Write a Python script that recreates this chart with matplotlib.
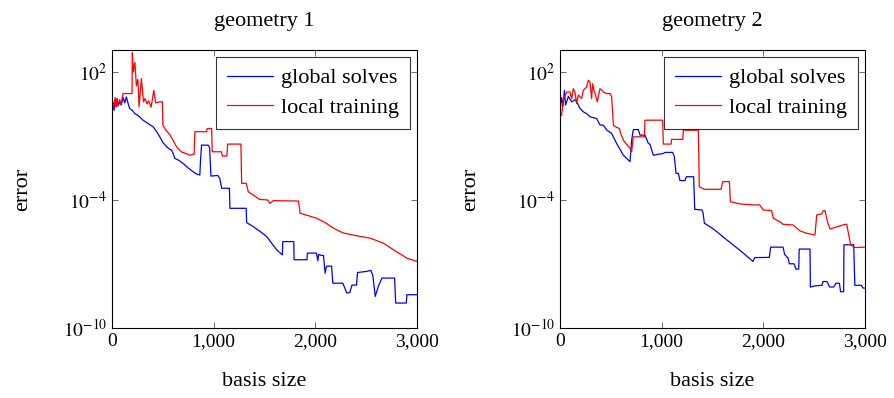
import matplotlib
matplotlib.use("Agg")
import matplotlib.pyplot as plt
import numpy as np

plt.rcParams['font.family'] = ['Liberation Serif', 'DejaVu Serif']
plt.rcParams['mathtext.fontset'] = 'stix'

titles = ["geometry 1", "geometry 2"]
series_names = ["global solves", "local training"]

# geometry 1, global solves (basis size, log10 error)
g1_global_x = [0, 10, 20, 30, 40, 50, 60, 75, 90, 110, 125, 141, 160, 174, 200, 223, 260, 306, 350, 404,
               440, 470, 500, 536, 560, 585, 600, 618, 660, 700, 750, 798, 830, 864, 870, 881, 946, 960,
               973, 1040, 1061, 1078, 1155, 1160, 1320, 1324, 1390, 1450, 1521, 1620, 1676, 1680, 1788,
               1791, 1918, 1922, 2010, 2025, 2032, 2060, 2080, 2096, 2110, 2160, 2172, 2270, 2310, 2340,
               2360, 2405, 2415, 2500, 2546, 2566, 2589, 2620, 2655, 2780, 2790, 2895, 2900, 3000]
g1_global_log = [0.13, 0.4, 0.2, 0.7, 0.35, 0.75, 0.4, 0.6, 0.45, 0.8, 0.55, 0.83, 0.5, 0.29, 0.2, 0.05, -0.05, -0.26,
                 -0.4, -0.57, -0.8, -1.04, -1.3, -1.5, -1.6, -1.66, -1.8, -2.05, -2.15, -2.29, -2.5, -2.68, -2.78,
                 -2.83, -2.2, -1.43, -1.43, -1.55, -2.88, -2.85, -3.0, -3.45, -3.45, -4.39, -4.39, -5.06, -5.25,
                 -5.45, -5.71, -6.34, -6.57, -5.95, -5.95, -6.8, -6.8, -6.49, -6.49, -6.85, -6.55, -6.6, -6.6, -7.43,
                 -7.1, -7.1, -7.9, -7.9, -8.36, -8.33, -7.99, -7.99, -7.4, -7.35, -7.3, -7.55, -8.52, -8.05, -7.66,
                 -7.66, -8.83, -8.83, -8.44, -8.44]

# geometry 1, local training
g1_local_x = [0, 10, 20, 30, 40, 50, 60, 75, 90, 108, 197, 200, 210, 225, 240, 255, 266, 289, 310, 325, 345, 360,
              385, 411, 430, 470, 496, 500, 530, 570, 601, 634, 680, 740, 766, 808, 815, 930, 936, 980, 986, 1075,
              1088, 1130, 1137, 1268, 1275, 1320, 1340, 1390, 1450, 1530, 1554, 1587, 1834, 1850, 1920, 2014, 2096,
              2179, 2244, 2280, 2409, 2540, 2672, 2770, 2902, 3000]
g1_local_log = [0.36, 0.6, 0.3, 0.8, 0.4, 0.75, 0.45, 0.7, 0.5, 0.99, 0.99, 2.9, 2.0, 2.45, 1.35, 1.65, 0.36, 1.69,
                0.6, 0.75, 0.5, 0.65, 0.35, 1.14, 0.55, 0.6, 0.6, -0.49, -0.72, -0.95, -1.2, -1.5, -1.74, -1.85,
                -1.9, -1.85, -0.8, -0.8, -0.65, -0.65, -1.74, -1.74, -1.94, -1.94, -1.38, -1.38, -3.22, -3.22,
                -3.61, -3.77, -3.97, -4.0, -4.16, -4.03, -4.05, -4.62, -4.72, -4.86, -5.06, -5.32, -5.48, -5.55,
                -5.68, -5.79, -6.03, -6.34, -6.73, -6.88]

# geometry 2, global solves
g2_global_x = [0, 15, 30, 43, 55, 82, 115, 150, 164, 197, 230, 262, 295, 360, 394, 426, 459, 508, 557, 623, 672,
               689, 705, 721, 770, 787, 836, 869, 885, 918, 1016, 1033, 1108, 1125, 1141, 1164, 1180, 1229, 1243,
               1315, 1325, 1397, 1407, 1420, 1476, 1541, 1640, 1705, 1803, 1898, 1915, 2056, 2059, 2072, 2194, 2210,
               2243, 2256, 2302, 2321, 2348, 2353, 2459, 2463, 2512, 2577, 2587, 2626, 2652, 2692, 2715, 2748,
               2760, 2790, 2793, 2889, 2900, 2964, 2980, 3000]
g2_global_log = [0.13, 0.8, 0.4, 1.14, 0.45, 0.85, 0.6, 0.7, 0.6, 0.29, 0.13, 0.05, -0.1, -0.18, -0.49, -0.49,
                 -0.72, -0.88, -1.35, -1.9, -2.13, -2.2, -1.19, -0.7, -0.7, -0.96, -0.96, -1.35, -1.39, -1.9, -1.82,
                 -1.77, -1.77, -1.97, -2.75, -2.75, -3.09, -3.09, -2.91, -2.91, -4.44, -4.47, -4.6, -5.09, -5.25,
                 -5.48, -5.87, -6.11, -6.49, -6.88, -6.7, -6.69, -6.69, -6.21, -6.21, -6.56, -6.72, -6.99, -6.99,
                 -7.24, -7.24, -6.3, -6.3, -8.08, -8.02, -8.0, -7.82, -7.82, -8.08, -8.08, -7.9, -7.9, -8.3, -8.3,
                 -6.1, -6.1, -8.0, -8.0, -8.13, -8.13]

# geometry 2, local training
g2_local_x = [0, 16, 33, 49, 66, 98, 115, 131, 147, 164, 180, 213, 230, 262, 279, 295, 311, 321, 334,
              354, 367, 393, 410, 426, 459, 492, 508, 525, 548, 584, 597, 623, 639, 689, 705, 721, 830,
              836, 1010, 1016, 1092, 1098, 1207, 1213, 1361, 1370, 1420, 1584, 1600, 1666, 1676, 1780,
              1898, 1964, 2000, 2082, 2099, 2164, 2194, 2292, 2328, 2361, 2426, 2508, 2525, 2574, 2590,
              2606, 2633, 2656, 2804, 2820, 2859, 2902, 3000]
g2_local_log = [-0.03, -0.03, 0.75, 0.9, 1.06, 1.06, 0.75, 1.22, 1.06, 0.52, 0.92, 0.76, 1.14, 1.3, 1.61,
                1.53, 0.75, 1.45, 1.14, 0.83, 0.6, 1.22, 1.14, 1.06, 0.99, 0.99, 0.83, -0.49, -0.57, -0.65,
                -0.88, -1.19, -1.3, -1.58, -1.74, -1.04, -1.04, -0.26, -0.26, -1.38, -1.38, -1.16, -1.16,
                -0.73, -0.73, -3.38, -3.5, -3.5, -3.14, -3.14, -4.08, -4.19, -4.23, -4.23, -4.47, -4.5,
                -4.86, -5.02, -5.14, -5.17, -5.32, -5.45, -5.56, -5.64, -4.7, -4.65, -4.5, -4.5, -5.06,
                -5.36, -5.14, -5.14, -6.1, -6.23, -6.21]

panels = [
    (g1_global_x, g1_global_log, g1_local_x, g1_local_log),
    (g2_global_x, g2_global_log, g2_local_x, g2_local_log),
]

fig = plt.figure(figsize=(8.94, 3.98), dpi=100)
lefts = [112 / 894, 560 / 894]

for i, (gx, gy, lx, ly) in enumerate(panels):
    ax = fig.add_axes([lefts[i], 70 / 398, 305 / 894, 278 / 398])
    ax.plot(gx, 10 ** np.array(gy), color="blue", lw=0.9, label=series_names[0])
    ax.plot(lx, 10 ** np.array(ly), color="red", lw=0.9, label=series_names[1])
    ax.set_yscale("log")
    ax.set_xlim(0, 3000)
    ax.set_ylim(1e-10, 10 ** 3.03)
    ax.set_yticks([1e-10, 1e-4, 1e2])
    ax.set_yticklabels([r"$10^{-10}$", r"$10^{-4}$", r"$10^{2}$"])
    ax.yaxis.set_minor_locator(matplotlib.ticker.NullLocator())
    ax.set_xticks([0, 1000, 2000, 3000])
    ax.set_xticklabels(["0", "1,000", "2,000", "3,000"])
    ax.tick_params(direction="in", top=True, right=True, labelsize=14, length=4, width=0.6, color="#555555")
    for s in ax.spines.values():
        s.set_linewidth(0.8)
    ax.set_title(titles[i], fontsize=16, pad=17)
    ax.set_xlabel("basis size", fontsize=16, labelpad=16)
    ax.set_ylabel("error", fontsize=16, labelpad=22)
    leg = ax.legend(loc="upper right", fontsize=16, frameon=True, fancybox=False, edgecolor="black",
                    handlelength=2.1, handletextpad=0.35, borderaxespad=0.3, borderpad=0.5,
                    labelspacing=0.4)
    leg.get_frame().set_linewidth(0.8)

fig.savefig("out.png", dpi=100)
